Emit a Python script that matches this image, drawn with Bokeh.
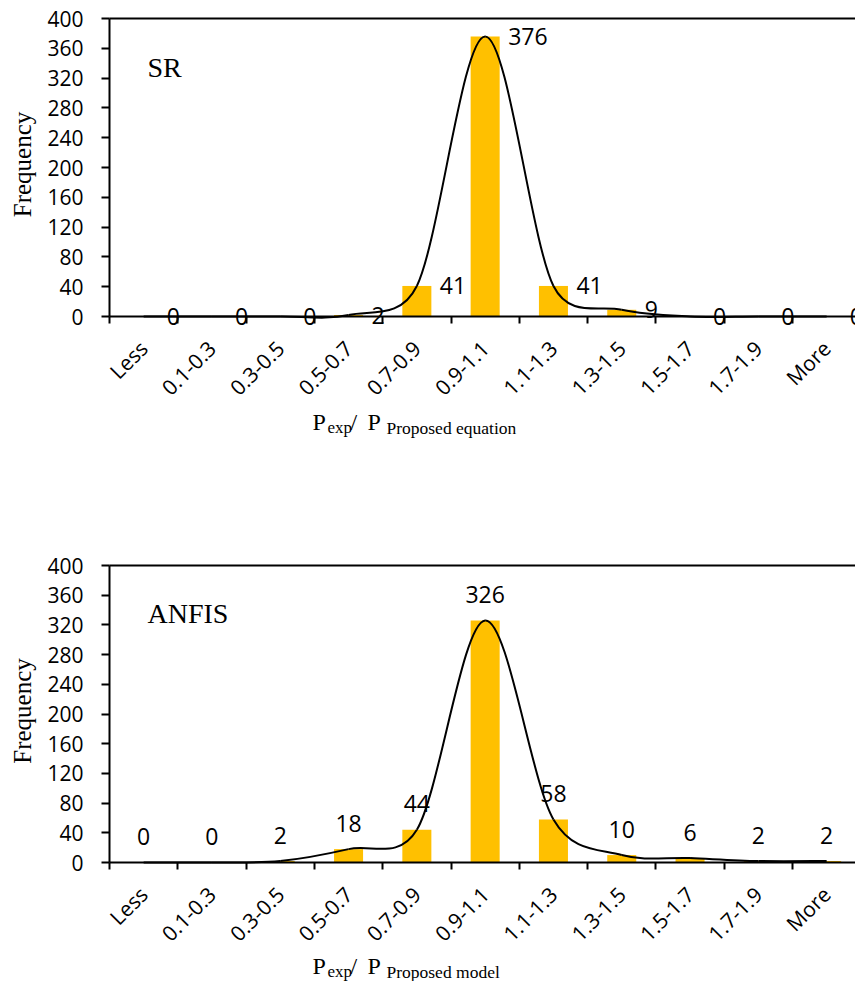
import math
from bokeh.plotting import figure
from bokeh.models import FixedTicker, Label, Range1d
from bokeh.layouts import column
from bokeh.embed import file_html
from bokeh.resources import INLINE
from bokeh.core.properties import value

# ---- data ----
bins = ["Less", "0.1-0.3", "0.3-0.5", "0.5-0.7", "0.7-0.9", "0.9-1.1",
        "1.1-1.3", "1.3-1.5", "1.5-1.7", "1.7-1.9", "More"]
sr_freq = [0, 0, 0, 2, 41, 376, 41, 9, 0, 0, 0]
anfis_freq = [0, 0, 2, 18, 44, 326, 58, 10, 6, 2, 2]
y_ticks = [0, 40, 80, 120, 160, 200, 240, 280, 320, 360, 400]

BAR = "#FFC000"
TICK_FONT = "Open Sans"
SERIF = "Liberation Serif"

FIG_W = 855
LEFT = 109          # px position of the y axis
CAT_PX = 68.3       # px per category


def smooth_segments(vals, sx, sy):
    """Cubic Bezier pieces through the points (smoothed line, clamped arms)."""
    pts = [(i * sx, v * sy) for i, v in enumerate(vals)]
    n = len(pts)

    def arm(i, seg_len):
        a = pts[max(i - 1, 0)]
        b = pts[min(i + 1, n - 1)]
        dx, dy = b[0] - a[0], b[1] - a[1]
        d = math.hypot(dx, dy)
        if d == 0:
            return 0.0, 0.0
        m = min(d / 6.0, seg_len / 2.0)
        return dx / d * m, dy / d * m

    out = {k: [] for k in ("x0", "y0", "x1", "y1", "cx0", "cy0", "cx1", "cy1")}
    for i in range(n - 1):
        p0, p1 = pts[i], pts[i + 1]
        L = math.hypot(p1[0] - p0[0], p1[1] - p0[1])
        a0 = arm(i, L)
        a1 = arm(i + 1, L)
        out["x0"].append(p0[0] / sx)
        out["y0"].append(p0[1] / sy)
        out["x1"].append(p1[0] / sx)
        out["y1"].append(p1[1] / sy)
        out["cx0"].append((p0[0] + a0[0]) / sx)
        out["cy0"].append((p0[1] + a0[1]) / sy)
        out["cx1"].append((p1[0] - a1[0]) / sx)
        out["cy1"].append((p1[1] - a1[1]) / sy)
    return out


def make_chart(freq, name, sub_text, height, top_px, zero_px, name_base,
               title_below, side_labels):
    py = (zero_px - top_px) / 400.0          # px per count
    x_start = -0.5 - LEFT / CAT_PX
    x_end = -0.5 + (FIG_W - LEFT) / CAT_PX
    y_end = 400 + top_px / py
    y_start = -(height - zero_px) / py

    def X(px):
        return x_start + px / CAT_PX

    def Y(pyx):
        return y_end - pyx / py

    p = figure(width=FIG_W, height=height, output_backend="svg",
               toolbar_location=None, x_range=Range1d(x_start, x_end),
               y_range=Range1d(y_start, y_end),
               min_border_left=0, min_border_right=0,
               min_border_top=0, min_border_bottom=0)
    p.outline_line_color = None
    p.xgrid.visible = False
    p.ygrid.visible = False
    p.background_fill_color = "white"

    xs = list(range(len(bins)))

    p.vbar(x=xs, top=freq, width=0.425, color=BAR, line_color=None)

    seg = smooth_segments(freq, CAT_PX, py)
    p.bezier(x0=seg["x0"], y0=seg["y0"], x1=seg["x1"], y1=seg["y1"],
             cx0=seg["cx0"], cy0=seg["cy0"], cx1=seg["cx1"], cy1=seg["cy1"],
             line_color="black", line_width=2)

    texts = [str(v) for v in freq]
    if side_labels:
        p.text(x=xs, y=freq, text=texts, x_offset=23,
               text_align="left", text_baseline="middle",
               text_font=value(TICK_FONT), text_font_size="23px",
               text_color="black")
    else:
        p.text(x=xs, y=freq, text=texts, y_offset=-26,
               text_align="center", text_baseline="middle",
               text_font=value(TICK_FONT), text_font_size="23px",
               text_color="black")

    # top border line of the plot area
    p.segment(x0=[-0.5], y0=[400], x1=[x_end], y1=[400],
              line_color="black", line_width=2)

    # x axis drawn at y = 0: labels centred on bins, tick marks on bin edges
    xa = p.xaxis[0]
    xa.fixed_location = 0
    xa.bounds = (-0.5, x_end)
    xa.ticker = FixedTicker(ticks=xs,
                            minor_ticks=[i - 0.5 for i in range(len(bins) + 1)])
    xa.major_label_overrides = {i: b for i, b in enumerate(bins)}
    xa.major_label_orientation = math.pi / 4
    xa.major_tick_out = 0
    xa.major_tick_in = 0
    xa.minor_tick_out = 7
    xa.minor_tick_in = 0
    xa.minor_tick_line_width = 2
    xa.minor_tick_line_color = "black"
    xa.axis_line_width = 2
    xa.axis_line_color = "black"
    xa.major_label_text_font = TICK_FONT
    xa.major_label_text_font_size = "21px"
    xa.major_label_text_color = "black"
    xa.major_label_standoff = 21

    # y axis drawn at the left edge of the first bin
    ya = p.yaxis[0]
    ya.fixed_location = -0.5
    ya.bounds = (0, 400)
    ya.ticker = FixedTicker(ticks=y_ticks, minor_ticks=[])
    ya.major_tick_out = 8
    ya.major_tick_in = 0
    ya.major_tick_line_width = 2
    ya.major_tick_line_color = "black"
    ya.axis_line_width = 2
    ya.axis_line_color = "black"
    ya.major_label_text_font = TICK_FONT
    ya.major_label_text_font_size = "21px"
    ya.major_label_text_color = "black"
    ya.major_label_standoff = 18

    # y axis title
    p.add_layout(Label(x=X(22), y=Y((top_px + zero_px) / 2 - 3),
                       text="Frequency", angle=math.pi / 2, text_font=SERIF,
                       text_font_size="25px", text_align="center",
                       text_baseline="alphabetic", text_color="black"))

    # model name inside the plot
    p.add_layout(Label(x=X(147), y=Y(name_base), text=name,
                       text_font=SERIF, text_font_size="28px",
                       text_baseline="alphabetic", text_color="black"))

    # x axis title: P_exp / P_sub
    pieces = [("P", 312, 0, "24px"), ("exp", 327, 6, "17px"),
              ("/", 350, 0, "24px"), ("P", 367, 0, "24px"),
              (sub_text, 386, 6, "17.5px")]
    for txt, px, drop, size in pieces:
        p.add_layout(Label(x=X(px), y=Y(zero_px + title_below + drop),
                           text=txt, text_font=SERIF, text_font_size=size,
                           text_baseline="alphabetic", text_align="left",
                           text_color="black"))
    return p


top = make_chart(sr_freq, "SR", "Proposed equation",
                 height=490, top_px=18, zero_px=316, name_base=67,
                 title_below=105, side_labels=True)
bottom = make_chart(anfis_freq, "ANFIS", "Proposed model",
                    height=491, top_px=75, zero_px=372, name_base=123,
                    title_below=103, side_labels=False)

layout = column(top, bottom, spacing=0)
open("out.html", "w").write(file_html(layout, INLINE))
